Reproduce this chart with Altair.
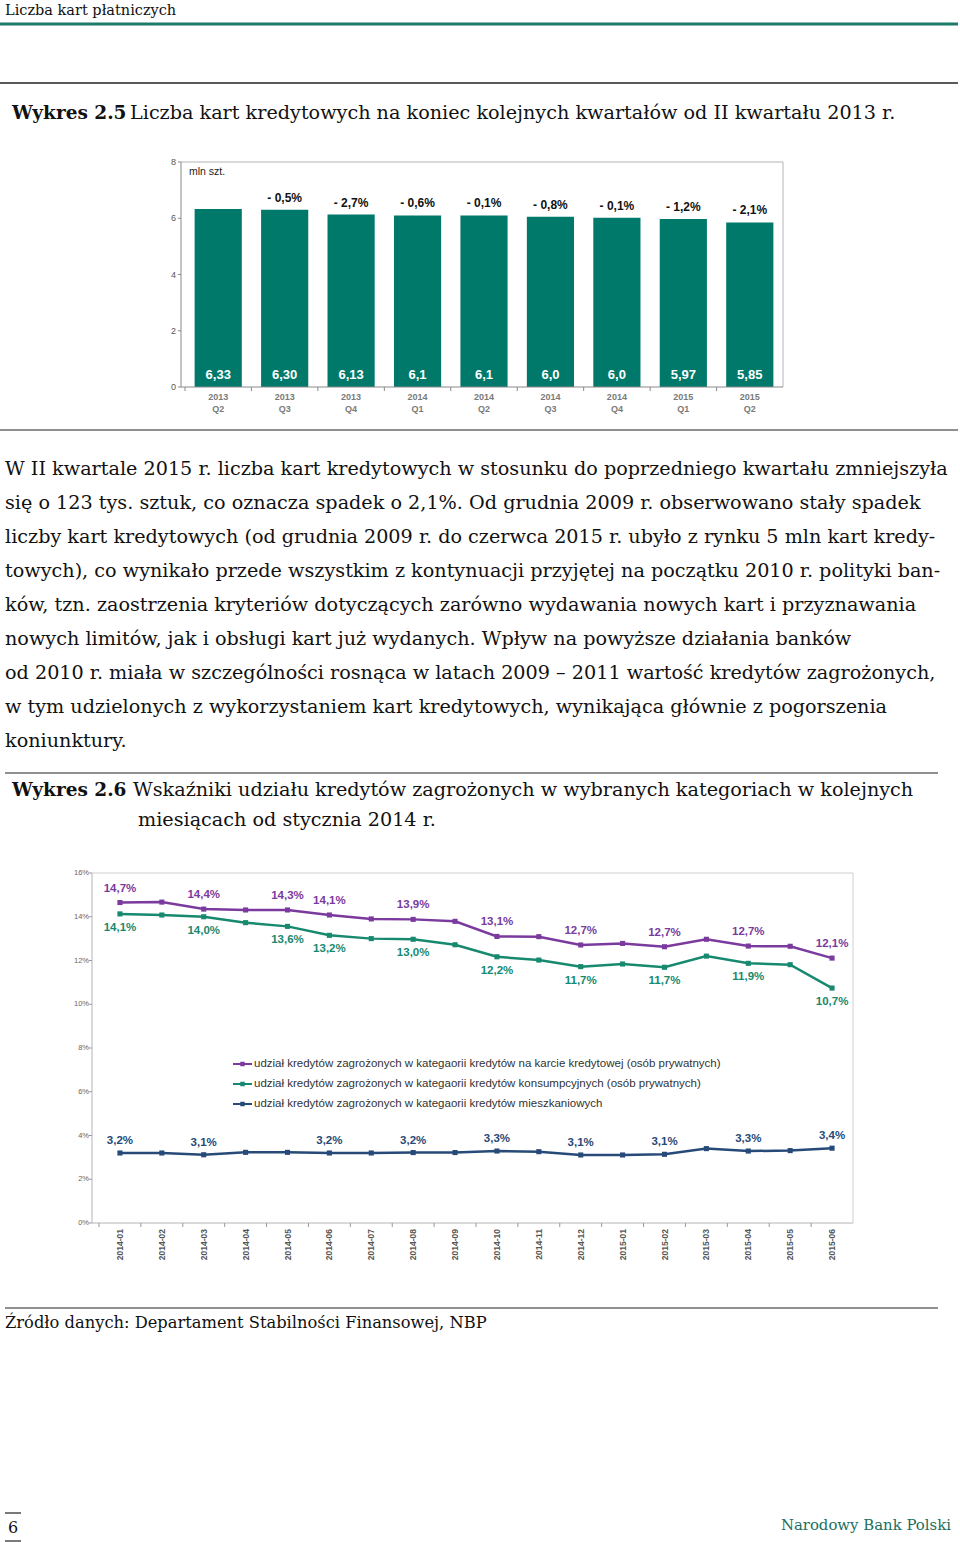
import altair as alt
import pandas as pd

# ---------------- data ----------------
q_year = ["2013", "2013", "2013", "2014", "2014", "2014", "2014", "2015", "2015"]
q_quarter = ["Q2", "Q3", "Q4", "Q1", "Q2", "Q3", "Q4", "Q1", "Q2"]
cards_mln = [6.33, 6.30, 6.13, 6.10, 6.10, 6.05, 6.02, 5.97, 5.85]
cards_labels = ["6,33", "6,30", "6,13", "6,1", "6,1", "6,0", "6,0", "5,97", "5,85"]
change_labels = ["", "- 0,5%", "- 2,7%", "- 0,6%", "- 0,1%", "- 0,8%", "- 0,1%", "- 1,2%", "- 2,1%"]
bar_ticks = [0, 2, 4, 6, 8]

months = ["2014-01", "2014-02", "2014-03", "2014-04", "2014-05", "2014-06",
          "2014-07", "2014-08", "2014-09", "2014-10", "2014-11", "2014-12",
          "2015-01", "2015-02", "2015-03", "2015-04", "2015-05", "2015-06"]
series_names = [
    "udział kredytów zagrożonych w kategaorii kredytów na karcie kredytowej (osób  prywatnych)",
    "udział kredytów zagrożonych w kategaorii kredytów konsumpcyjnych (osób prywatnych)",
    "udział kredytów zagrożonych w kategaorii kredytów mieszkaniowych",
]
card_npl = [14.65, 14.67, 14.35, 14.31, 14.31, 14.08, 13.90, 13.88, 13.79,
            13.10, 13.09, 12.71, 12.78, 12.63, 12.97, 12.66, 12.65, 12.11]
consumer_npl = [14.13, 14.08, 14.00, 13.73, 13.56, 13.15, 13.00, 12.97, 12.72,
                12.17, 12.02, 11.72, 11.84, 11.69, 12.20, 11.87, 11.81, 10.74]
mortgage_npl = [3.20, 3.20, 3.12, 3.23, 3.23, 3.20, 3.20, 3.22, 3.22,
                3.29, 3.26, 3.11, 3.11, 3.14, 3.40, 3.29, 3.31, 3.42]
card_lbl = ["14,7%", "", "14,4%", "", "14,3%", "14,1%", "", "13,9%", "", "13,1%",
            "", "12,7%", "", "12,7%", "", "12,7%", "", "12,1%"]
consumer_lbl = ["14,1%", "", "14,0%", "", "13,6%", "13,2%", "", "13,0%", "", "12,2%",
                "", "11,7%", "", "11,7%", "", "11,9%", "", "10,7%"]
mortgage_lbl = ["3,2%", "", "3,1%", "", "", "3,2%", "", "3,2%", "", "3,3%",
                "", "3,1%", "", "3,1%", "", "3,3%", "", "3,4%"]
line_ticks = [0, 2, 4, 6, 8, 10, 12, 14, 16]

header_text = "Liczba kart płatniczych"
title25_bold = "Wykres 2.5"
title25_text = "Liczba kart kredytowych na koniec kolejnych kwartałów od II kwartału 2013 r."
paragraph = [
    "W II kwartale 2015 r. liczba kart kredytowych w stosunku do poprzedniego kwartału zmniejszyła",
    "się o 123 tys. sztuk, co oznacza spadek o 2,1%. Od grudnia 2009 r. obserwowano stały spadek",
    "liczby kart kredytowych (od grudnia 2009 r. do czerwca 2015 r. ubyło z rynku 5 mln kart kredy-",
    "towych), co wynikało przede wszystkim z kontynuacji przyjętej na początku 2010 r. polityki ban-",
    "ków, tzn. zaostrzenia kryteriów dotyczących zarówno wydawania nowych kart i przyznawania",
    "nowych limitów, jak i obsługi kart już wydanych. Wpływ na powyższe działania banków",
    "od 2010 r. miała w szczególności rosnąca w latach 2009 – 2011 wartość kredytów zagrożonych,",
    "w tym udzielonych z wykorzystaniem kart kredytowych, wynikająca głównie z pogorszenia",
    "koniunktury.",
]
title26_bold = "Wykres 2.6"
title26_line1 = "Wskaźniki udziału kredytów zagrożonych w wybranych kategoriach w kolejnych"
title26_line2 = "miesiącach od stycznia 2014 r."
source_text = "Źródło danych: Departament Stabilności Finansowej, NBP"
page_number = "6"
footer_text = "Narodowy Bank Polski"

# ---------------- styles ----------------
SERIF = "DejaVu Serif"
SANS = "Liberation Sans"
BAR = "#00796A"
COLORS = ["#7A3A9E", "#17896F", "#274A78"]
FRAME = "#b4b4b4"

one = pd.DataFrame({"k": [0]})


def rule(x1, x2, y1, y2, color="#222", width=1.2):
    return alt.Chart(one).mark_rule(color=color, strokeWidth=width).encode(
        x=alt.value(x1), x2=alt.value(x2), y=alt.value(y1), y2=alt.value(y2))


def text(x, y, content, size, weight="normal", color="#111", font=SERIF,
         align="left", baseline="alphabetic", line_height=None):
    kw = dict(text=content, fontSize=size, fontWeight=weight, color=color,
              font=font, align=align, baseline=baseline)
    if line_height:
        kw["lineHeight"] = line_height
    return alt.Chart(one).mark_text(**kw).encode(x=alt.value(x), y=alt.value(y))


BODY = 19.2
page = [
    rule(0, 958, 24, 24, "#1B7A68", 3),
    text(5, 15, header_text, 14.5),
    rule(0, 958, 83, 83, "#222", 1.5),
    text(12, 119, title25_bold, 18.5, weight="bold"),
    text(130, 119, title25_text, BODY),
    rule(0, 958, 430, 430, "#222", 1.2),
    text(5, 475, paragraph, BODY, line_height=34),
    rule(5, 938, 773, 773, "#222", 1.2),
    text(12, 796, title26_bold, 18.5, weight="bold"),
    text(133, 796, title26_line1, BODY),
    text(138, 826, title26_line2, BODY),
    rule(5, 938, 1308, 1308, "#222", 1.2),
    text(5, 1328, source_text, 16.3),
    rule(5, 21, 1513, 1513, "#222", 1.2),
    text(13, 1533, page_number, 16, align="center"),
    rule(5, 21, 1541, 1541, "#222", 1.2),
    text(951, 1530, footer_text, 14.9, color="#1B6F60", align="right"),
]

# ---------------- bar chart ----------------
quarters = [f"{a} {b}" for a, b in zip(q_year, q_quarter)]
bar_df = pd.DataFrame({
    "q": quarters,
    "xl": [f"{a}\n{b}" for a, b in zip(q_year, q_quarter)],
    "v": cards_mln,
    "vl": cards_labels,
    "chg": change_labels,
})
tick_df = pd.DataFrame({"t": bar_ticks, "tl": [str(t) for t in bar_ticks]})

xb = alt.X("q:N", scale=alt.Scale(domain=quarters, range=[185, 783],
                                  paddingInner=0.29, paddingOuter=0.145), axis=None)
ybs = alt.Scale(domain=[0, 8], range=[387, 162])

bar_base = alt.Chart(bar_df)
bars = bar_base.mark_bar(color=BAR).encode(x=xb, y=alt.Y("v:Q", scale=ybs, axis=None))
bar_vals = bar_base.mark_text(color="white", fontWeight="bold", fontSize=13, font=SANS,
                              baseline="middle").encode(x=xb, y=alt.value(375), text="vl:N")
bar_chg = bar_base.mark_text(color="#111", fontWeight="bold", fontSize=12, font=SANS,
                             baseline="bottom", dy=-5).encode(
    x=xb, y=alt.Y("v:Q", scale=ybs, axis=None), text="chg:N")
bar_xl = bar_base.mark_text(color="#7a7a7a", fontWeight="bold", fontSize=9, font=SANS,
                            baseline="top", lineBreak="\n", lineHeight=12).encode(
    x=xb, y=alt.value(393), text="xl:N")
bar_yl = alt.Chart(tick_df).mark_text(color="#555", fontSize=9, font=SANS, align="right",
                                      baseline="middle").encode(
    x=alt.value(176), y=alt.Y("t:Q", scale=ybs, axis=None), text="tl:N")
bar_yt = alt.Chart(tick_df).mark_rule(color="#888", strokeWidth=1).encode(
    x=alt.value(178), x2=alt.value(181), y=alt.Y("t:Q", scale=ybs, axis=None))
mln = text(189, 172, "mln szt.", 10.5, color="#222", font=SANS, baseline="middle")

bar_group = alt.layer(
    bars, bar_vals, bar_chg, bar_xl, bar_yl, bar_yt,
    rule(181, 783, 162, 162, FRAME, 1),
    rule(783, 783, 162, 387, FRAME, 1),
    rule(181, 181, 162, 387, "#888", 1),
    rule(181, 783, 387, 387, "#888", 1),
    mln,
)

# category boundary ticks below the bar chart axis
bar_ticks_x = bar_base.mark_rule(color="#888", strokeWidth=1).encode(
    x=alt.X("q:N", bandPosition=0,
            scale=alt.Scale(domain=quarters, range=[185, 783], paddingInner=0, paddingOuter=0),
            axis=None),
    y=alt.value(387), y2=alt.value(391))

# ---------------- line chart ----------------
rows = []
for name, vals, lbls in zip(series_names, [card_npl, consumer_npl, mortgage_npl],
                            [card_lbl, consumer_lbl, mortgage_lbl]):
    for m, v, l in zip(months, vals, lbls):
        rows.append({"m": m, "s": name, "v": v, "l": l})
line_df = pd.DataFrame(rows)
lt_df = pd.DataFrame({"t": line_ticks, "tl": [f"{t}%" for t in line_ticks]})
m_df = pd.DataFrame({"m": months})

xl = alt.X("m:N", scale=alt.Scale(type="point", domain=months, range=[99, 853], padding=0.5),
           axis=None)
yls = alt.Scale(domain=[0, 16], range=[1223, 873])
yl = alt.Y("v:Q", scale=yls, axis=None)
cscale = alt.Scale(domain=series_names, range=COLORS)
col = alt.Color("s:N", scale=cscale, legend=None)

lbase = alt.Chart(line_df)
lines = lbase.mark_line(strokeWidth=2.5).encode(x=xl, y=yl, color=col, detail="s:N")
pts = lbase.mark_point(shape="square", filled=True, size=26, opacity=1).encode(
    x=xl, y=yl, color=col)

lbl_layers = []
for name, dy in zip(series_names, [-14, 14, -12]):
    lbl_layers.append(
        lbase.transform_filter(
            (alt.datum.s == name) & (alt.datum.l != "")
        ).mark_text(fontWeight="bold", fontSize=11.5, font=SANS, baseline="middle", dy=dy).encode(
            x=xl, y=yl, color=col, text="l:N")
    )

l_yl = alt.Chart(lt_df).mark_text(color="#666", fontSize=7.5, font=SANS, align="right",
                                  baseline="middle").encode(
    x=alt.value(89), y=alt.Y("t:Q", scale=yls, axis=None), text="tl:N")
l_yt = alt.Chart(lt_df).mark_rule(color="#999", strokeWidth=1).encode(
    x=alt.value(89), x2=alt.value(92), y=alt.Y("t:Q", scale=yls, axis=None))
l_xl = alt.Chart(m_df).mark_text(color="#555", fontSize=8.5, font=SANS, fontWeight="bold",
                                 angle=270, align="right", baseline="middle").encode(
    x=xl, y=alt.value(1229), text="m:N")

line_group = alt.layer(
    rule(92, 853, 873, 873, "#d0d0d0", 1),
    rule(853, 853, 873, 1223, "#d0d0d0", 1),
    rule(92, 92, 873, 1223, FRAME, 1),
    rule(92, 853, 1223, 1223, FRAME, 1),
    lines, pts, *lbl_layers, l_yl, l_yt, l_xl,
)

# month boundary ticks below the line chart axis
month_ticks = alt.Chart(m_df).mark_rule(color="#999", strokeWidth=1).encode(
    x=alt.X("m:N", bandPosition=0,
            scale=alt.Scale(domain=months, range=[99, 853], paddingInner=0, paddingOuter=0),
            axis=None),
    y=alt.value(1223), y2=alt.value(1227))

# ---------------- legend ----------------
leg_df = pd.DataFrame({"s": series_names})
ly = alt.Y("s:N", scale=alt.Scale(type="point", domain=series_names, range=[1064, 1104],
                                  padding=0),
           axis=None)
lcol = alt.Color("s:N", scale=cscale, legend=None)
leg_base = alt.Chart(leg_df)
leg_line = leg_base.mark_rule(strokeWidth=2).encode(
    x=alt.value(233), x2=alt.value(252), y=ly, color=lcol)
leg_pt = leg_base.mark_point(shape="square", filled=True, size=20, opacity=1).encode(
    x=alt.value(242.5), y=ly, color=lcol)
leg_txt = leg_base.mark_text(align="left", baseline="middle", fontSize=11.5, font=SANS,
                             color="#333").encode(x=alt.value(254), y=ly, text="s:N")
legend_group = alt.layer(leg_line, leg_pt, leg_txt)

chart = alt.layer(*page, bar_group, bar_ticks_x, line_group, month_ticks,
                  legend_group).resolve_scale(
    x="independent", y="independent"
).properties(
    width=960, height=1542,
    autosize=alt.AutoSizeParams(type="none"),
    padding=0, background="white",
).configure_view(strokeWidth=0)

chart.save("out.html", embed_options={"renderer": "svg", "actions": False})
